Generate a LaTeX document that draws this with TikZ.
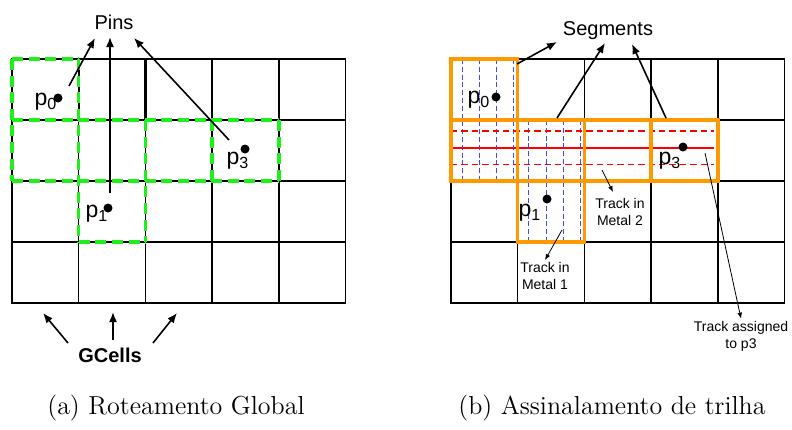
\documentclass[tikz,border=0pt]{standalone}
\usepackage{fontspec}
\newfontfamily\helv{Liberation Sans}
\usepackage{xcolor}
\usetikzlibrary{arrows.meta,positioning}
\definecolor{gcgreen}{RGB}{30,240,30}
\definecolor{segorange}{RGB}{255,153,0}
\definecolor{mone}{RGB}{70,70,255}
\definecolor{mtwo}{RGB}{255,0,0}
\newcommand{\cw}{66.7}
\newcommand{\ch}{61}

\begin{document}
\begin{tikzpicture}[
	x=0.5pt, y=-0.5pt,
	every node/.style={font=\helv\fontsize{10}{12}\selectfont},
	cell/.style={line width=0.7pt, line cap=rect},
	route/.style={draw=gcgreen, line width=1.7pt, dash pattern=on 5.5pt off 2.8pt},
	seg/.style={draw=segorange, line width=1.7pt},
	metalone/.style={draw=mone, line width=0.5pt, dash pattern=on 2.5pt off 1.4pt},
	metaltwo/.style={draw=mtwo, line width=0.6pt, dash pattern=on 3.2pt off 2pt},
	pin/.style={circle, fill, inner sep=0pt, minimum size=4.5pt},
	pinname/.style={inner sep=0pt, font=\helv\fontsize{11.5}{13}\selectfont},
	note/.style={inner sep=1pt, align=center, font=\helv\fontsize{7}{8.4}\selectfont},
	caption/.style={font=\rmfamily\fontsize{13}{15}\selectfont},
	arrow/.style={-{Latex[length=5pt,width=4pt]}, line width=0.8pt},
	thinarrow/.style={-{Latex[length=3pt,width=2.4pt]}, line width=0.4pt}
	]
	\useasboundingbox (0,0) rectangle (792,429);
	
	\foreach \ox in {12,451} {
		\foreach \i in {0,...,5} \draw[cell] ({\ox+\i*\cw},59) -- ({\ox+\i*\cw},303);
		\foreach \j in {0,...,4} \draw[cell] (\ox,{59+\j*\ch}) -- ({\ox+5*\cw},{59+\j*\ch});
	}
	\draw[line width=1.1pt] ({12+\cw},59) rectangle ++(\cw,\ch);
	
	\foreach \xa/\ya/\xb/\yb in {0/0/1/0, 0/1/4/1, 0/2/4/2, 1/3/2/3, 0/0/0/2, 1/0/1/3, 2/1/2/3, 3/1/3/2, 4/1/4/2}
		\draw[route] ({12+\xa*\cw},{59+\ya*\ch}) -- ({12+\xb*\cw},{59+\yb*\ch});
	
	\foreach \t in {11,28.5,45.5,62.5} {
		\draw[metalone] ({451+\t},59) -- ({451+\t},{59+2*\ch});
		\draw[metalone] ({451+\cw+\t},{59+\ch}) -- ({451+\cw+\t},{59+3*\ch});
	}
	\draw[metaltwo] (451,131) -- (714,131);
	\draw[metaltwo] (451,164.5) -- (714,164.5);
	\draw[mtwo, line width=1pt] (451,147.5) -- (714,147.5);
	
	\foreach \c/\r in {0/0,0/1,1/1,2/1,3/1,1/2}
		\draw[seg] ({451+\c*\cw},{59+\r*\ch}) rectangle ++(\cw,\ch);
	
	\node[pin] (p0a) at (58,98) {};
	\node[pin] (p1a) at (108,208) {};
	\node[pin] (p3a) at (245,149) {};
	\node[pinname] (p0aName) at (46,102) {p\textsubscript{0}};
	\node[pinname] (p1aName) at (97,214) {p\textsubscript{1}};
	\node[pinname] (p3aName) at (238,161) {p\textsubscript{3}};
	
	\node[pin] (p0b) at (496,97) {};
	\node[pin] (p1b) at (547,199) {};
	\node[pin] (p3b) at (683,147) {};
	\node[pinname] (p0bName) at (479,100) {p\textsubscript{0}};
	\node[pinname] (p1bName) at (530,213) {p\textsubscript{1}};
	\node[pinname] (p3bName) at (670,161) {p\textsubscript{3}};
	
	\node (pins) at (114,22) {Pins};
	\coordinate (fromP0a) at (69,86);
	\coordinate (fromP1a) at (110,193);
	\coordinate (fromP3a) at (229,140);
	\coordinate (pinsA) at (95,38);
	\coordinate (pinsB) at (110,37);
	\coordinate (pinsC) at (134,38);
	\draw[arrow] (fromP0a) -- (pinsA);
	\draw[arrow] (fromP1a) -- (pinsB);
	\draw[arrow] (fromP3a) -- (pinsC);
	
	\node[font=\helv\bfseries\fontsize{10}{12}\selectfont] (gcells) at (110,355) {GCells};
	\coordinate (gcA) at (68,343);
	\coordinate (gcB) at (113,340);
	\coordinate (gcC) at (153,343);
	\coordinate (cellA) at (43,313);
	\coordinate (cellB) at (113,312);
	\coordinate (cellC) at (177,313);
	\draw[arrow] (gcA) -- (cellA);
	\draw[arrow] (gcB) -- (cellB);
	\draw[arrow] (gcC) -- (cellC);
	
	\node (segments) at (608,31) {Segments};
	\coordinate (fromSegA) at (517,64);
	\coordinate (fromSegB) at (557,118);
	\coordinate (fromSegC) at (666,118);
	\coordinate (segA) at (557,42);
	\coordinate (segB) at (605,43);
	\coordinate (segC) at (632,44);
	\draw[arrow] (fromSegA) -- (segA);
	\draw[arrow] (fromSegB) -- (segB);
	\draw[arrow] (fromSegC) -- (segC);
	
	\node[note] (metalTwo) at (620,212) {Track in\\Metal 2};
	\node[note] (metalOne) at (545,276) {Track in\\Metal 1};
	\node[note] (assigned) at (741,336) {Track assigned\\to p3};
	\coordinate (trackTwo) at (602,170);
	\coordinate (tipTwo) at (613,192);
	\coordinate (trackOne) at (562,230);
	\coordinate (trackThree) at (705,153);
	\draw[thinarrow] (trackTwo) -- (tipTwo);
	\draw[thinarrow] (trackOne) -- (metalOne.north);
	\draw[thinarrow] (trackThree) -- (assigned.north);
	
	\node[caption] (capA) at (176,408) {(a) Roteamento Global};
	\node[caption] (capB) at (612,408) {(b) Assinalamento de trilha};
\end{tikzpicture}
\end{document}
